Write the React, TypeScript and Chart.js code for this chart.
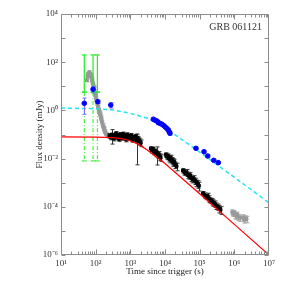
import { useEffect, useRef } from "react";
import { Chart, registerables } from "chart.js";
Chart.register(...registerables);

// ---------- data ----------
const xTickValues = [1e1, 1e2, 1e3, 1e4, 1e5, 1e6, 1e7];
const yTickValues = [1e-6, 1e-5, 1e-4, 1e-3, 1e-2, 1e-1, 1e0, 1e1, 1e2, 1e3, 1e4];
const superDigits: Record<string, string> = { "-": "⁻", "0": "⁰", "1": "¹", "2": "²", "3": "³", "4": "⁴", "5": "⁵", "6": "⁶", "7": "⁷", "8": "⁸", "9": "⁹" };

// model curves
const redT = [10, 100, 316, 562, 1000, 1778, 3162, 10000, 100000, 1000000, 10000000];
const redF = [0.0794, 0.0785, 0.0741, 0.0676, 0.055, 0.038, 0.0224, 0.0063, 0.000347, 0.0000186, 0.000001];

const cyanT = [10, 100, 316, 1000, 3160, 10000, 31600, 100000, 316000, 1000000, 3160000, 10000000];
const cyanF = [1.26, 1.17, 1.05, 0.76, 0.47, 0.19, 0.06, 0.0186, 0.0056, 0.00166, 0.0005, 0.000145];

// green upper limits
const limT = [47, 84, 112];
const limTop = [200, 200, 200];
const limMid = [5.7, 5.7, 5.7];
const limBottom = [0.008, 0.008, 0.008];

// blue points
const blueT = [47, 84, 115, 272, 4600, 5200, 5900, 6400, 7200, 8000, 9000, 10000, 11200, 12400, 13200, 13900, 78000, 133000, 170000, 254000, 344000];
const blueF = [1.97, 7.5, 2.3, 1.67, 0.43, 0.39, 0.36, 0.31, 0.29, 0.27, 0.24, 0.21, 0.18, 0.155, 0.13, 0.112, 0.0267, 0.0193, 0.0128, 0.0085, 0.0068];
const blueRel = [0.65, 0.3, 0.15, 0.25, 0.08, 0.06, 0.06, 0.06, 0.06, 0.06, 0.06, 0.07, 0.07, 0.08, 0.1, 0.15, 0.1, 0.1, 0.1, 0.1, 0.1];

// grey points
const greyT = [56, 58, 60, 63, 66, 69, 71, 73, 76, 78, 81, 84, 87, 89, 92, 95, 98, 102, 105, 109, 112, 116, 120, 125, 129, 133, 138, 142, 147, 152, 158, 163, 169, 174, 180, 186, 195, 205, 215,
  870000, 920000, 980000, 1050000, 1120000, 1200000, 1300000, 1450000, 1750000, 1900000, 2050000, 2250000];
const greyF = [18, 26, 32, 35, 39, 33, 27, 30, 22, 18, 15, 12.4, 10, 8.5, 6.5, 5.3, 4.2, 3.3, 2.6, 2.2, 1.8, 1.5, 1.2, 1.04, 0.85, 0.71, 0.58, 0.48, 0.4, 0.33, 0.26, 0.22, 0.19, 0.17, 0.14, 0.126, 0.11, 0.104, 0.095,
  0.00006, 0.000052, 0.000056, 0.000046, 0.000043, 0.000048, 0.000038, 0.000035, 0.000036, 0.00003, 0.000033, 0.000031];
const greyRel = [0.15, 0.12, 0.1, 0.1, 0.1, 0.1, 0.1, 0.1, 0.1, 0.1, 0.1, 0.1, 0.1, 0.1, 0.1, 0.1, 0.1, 0.1, 0.1, 0.1, 0.1, 0.1, 0.1, 0.1, 0.1, 0.1, 0.1, 0.1, 0.1, 0.1, 0.12, 0.12, 0.12, 0.12, 0.12, 0.12, 0.12, 0.12, 0.12,
  0.25, 0.25, 0.25, 0.3, 0.3, 0.25, 0.3, 0.3, 0.3, 0.3, 0.3, 0.3];

// black points
const blackT = [250, 270, 290, 310, 335, 360, 385, 410, 440, 470, 500, 540, 580, 620, 660, 710, 760, 810, 870, 930, 1000, 1070, 1150, 1230, 1320, 1420, 1520, 1630, 1750, 1880, 2000,
  3900, 4200, 4500, 4800, 5100, 5400, 5800, 6200, 6600, 7000, 7500,
  10500, 11200, 12000, 12800, 13600, 14500, 15500, 16500, 17500, 18700, 20000, 21500,
  33000, 36000, 39000, 42000, 45000, 49000, 53000, 57000, 62000, 67000, 73000, 80000, 88000, 95000,
  125000, 140000, 155000, 170000, 185000, 205000, 225000, 250000, 275000, 300000, 330000, 370000, 400000];
const blackF = [0.09, 0.075, 0.1, 0.082, 0.068, 0.095, 0.11, 0.078, 0.088, 0.065, 0.1, 0.085, 0.072, 0.105, 0.08, 0.09, 0.062, 0.098, 0.075, 0.085, 0.07, 0.092, 0.06, 0.078, 0.066, 0.085, 0.055, 0.07, 0.06, 0.05, 0.045,
  0.026, 0.022, 0.025, 0.019, 0.021, 0.017, 0.018, 0.014, 0.015, 0.012, 0.011,
  0.0145, 0.012, 0.013, 0.0105, 0.0095, 0.011, 0.0085, 0.0078, 0.0068, 0.0072, 0.0055, 0.0048,
  0.0032, 0.0028, 0.0025, 0.0027, 0.0021, 0.0019, 0.002, 0.0016, 0.0014, 0.0015, 0.0012, 0.00105, 0.0009, 0.00075,
  0.00036, 0.0003, 0.00026, 0.00028, 0.00022, 0.00019, 0.00017, 0.00015, 0.000135, 0.00011, 0.0001, 0.000085, 0.000075];
const blackRel = [0.2, 0.2, 0.6, 0.2, 0.2, 0.2, 0.2, 0.2, 0.2, 0.2, 0.2, 0.2, 0.2, 0.2, 0.2, 0.2, 0.2, 0.2, 0.2, 0.2, 0.2, 0.2, 0.2, 0.2, 0.2, 0.2, 0.9, 0.2, 0.2, 0.3, 0.3,
  0.2, 0.25, 0.2, 0.25, 0.2, 0.3, 0.7, 0.25, 0.3, 0.3, 0.3,
  0.2, 0.25, 0.2, 0.3, 0.3, 0.25, 0.3, 0.3, 0.3, 0.3, 0.3, 0.35,
  0.2, 0.25, 0.2, 0.3, 0.3, 0.25, 0.3, 0.3, 0.3, 0.3, 0.3, 0.35, 0.35, 0.4,
  0.2, 0.25, 0.2, 0.3, 0.3, 0.25, 0.3, 0.3, 0.3, 0.3, 0.3, 0.35, 0.35];

// ---------- styling ----------
const AXIS = "#8c8c8c";
const FONT = "'Liberation Serif', 'Times New Roman', serif";

function sup(n: number) {
  return "10" + String(n).split("").map((c) => superDigits[c] || c).join("");
}
function pts(t: number[], f: number[]) {
  return t.map((v, i) => ({ x: v, y: f[i] }));
}
function relLo(f: number[], r: number[]) {
  return f.map((v, i) => Math.max(v - v * r[i], v * 0.02));
}
function relHi(f: number[], r: number[]) {
  return f.map((v, i) => v + v * r[i]);
}

const errPlugin = {
  id: "errbars",
  beforeDatasetDraw(chart: any, args: any) {
    const ds = chart.data.datasets[args.index];
    if (!ds.errLo) return;
    const { ctx } = chart;
    const xs = chart.scales.x;
    const ys = chart.scales.y;
    ctx.save();
    ctx.strokeStyle = ds.errColor;
    ctx.lineWidth = 1;
    ds.data.forEach((p: any, i: number) => {
      const px = Math.round(xs.getPixelForValue(p.x)) + 0.5;
      const y1 = ys.getPixelForValue(ds.errLo[i]);
      const y2 = ys.getPixelForValue(ds.errHi[i]);
      ctx.beginPath();
      ctx.moveTo(px, y1);
      ctx.lineTo(px, y2);
      ctx.moveTo(px - 2, y1);
      ctx.lineTo(px + 2, y1);
      ctx.moveTo(px - 2, y2);
      ctx.lineTo(px + 2, y2);
      ctx.stroke();
    });
    ctx.restore();
  },
};

const framePlugin = {
  id: "frame",
  afterDraw(chart: any) {
    const { ctx, chartArea } = chart;
    const { left, right, top, bottom } = chartArea;
    const xs = chart.scales.x;
    const ys = chart.scales.y;
    ctx.save();
    ctx.strokeStyle = AXIS;
    ctx.lineWidth = 1;
    const L = Math.round(left) + 0.5, R = Math.round(right) - 0.5, T = Math.round(top) + 0.5, B = Math.round(bottom) - 0.5;
    ctx.beginPath();
    ctx.rect(L, T, R - L, B - T);
    ctx.stroke();
    ctx.beginPath();
    for (let e = 1; e < 7; e++) {
      for (let m = 1; m < 10; m++) {
        const v = m * Math.pow(10, e);
        const px = Math.round(xs.getPixelForValue(v)) + 0.5;
        const len = m === 1 ? 5 : 3;
        ctx.moveTo(px, B);
        ctx.lineTo(px, B - len);
        ctx.moveTo(px, T);
        ctx.lineTo(px, T + len);
      }
    }
    yTickValues.forEach((v) => {
      const py = Math.round(ys.getPixelForValue(v)) + 0.5;
      ctx.moveTo(L, py);
      ctx.lineTo(L + 4, py);
      ctx.moveTo(R, py);
      ctx.lineTo(R - 4, py);
    });
    ctx.stroke();
    ctx.fillStyle = "#333";
    ctx.font = `10px ${FONT}`;
    ctx.textAlign = "right";
    ctx.textBaseline = "middle";
    ctx.fillText("GRB 061121", right - 7, top + 13);
    ctx.restore();
  },
};

export default function App() {
  const ref = useRef<HTMLCanvasElement>(null);
  useEffect(() => {
    document.body.style.margin = "0";
    const limSolid: any[] = [];
    const limDash: any[] = [];
    limT.forEach((t, i) => {
      limSolid.push({ x: t, y: limTop[i] }, { x: t, y: limMid[i] }, { x: t, y: null });
      limDash.push({ x: t, y: limMid[i] }, { x: t, y: limBottom[i] }, { x: t, y: null });
    });
    const chart = new Chart(ref.current!, {
      type: "scatter",
      data: {
        datasets: [
          {
            data: pts(redT, redF) as any,
            showLine: true,
            borderColor: "#ff0000",
            borderWidth: 1.2,
            pointRadius: 0,
          },
          {
            data: pts(blueT, blueF) as any,
            backgroundColor: "#0000ff",
            borderColor: "#0000ff",
            pointRadius: 2.3,
            errLo: relLo(blueF, blueRel),
            errHi: relHi(blueF, blueRel),
            errColor: "#6f6fff",
          } as any,
          {
            data: pts(cyanT, cyanF) as any,
            showLine: true,
            borderColor: "#22e6ee",
            borderWidth: 1.5,
            borderDash: [4, 3],
            pointRadius: 0,
          },
          {
            data: limSolid,
            showLine: true,
            spanGaps: false,
            borderColor: "#22ee22",
            borderWidth: 1.2,
            pointStyle: "line",
            pointRadius: 2.5,
            borderCapStyle: "butt",
          } as any,
          {
            data: limDash,
            showLine: true,
            spanGaps: false,
            borderColor: "#22ee22",
            borderWidth: 1,
            borderDash: [4, 2, 1, 2],
            pointStyle: "line",
            pointRadius: 2.5,
          },
          {
            data: pts(blackT, blackF) as any,
            backgroundColor: "#000000",
            borderColor: "#000000",
            pointStyle: "rect",
            pointRadius: 2,
            errLo: relLo(blackF, blackRel),
            errHi: relHi(blackF, blackRel),
            errColor: "#333333",
          } as any,
          {
            data: pts(greyT, greyF) as any,
            backgroundColor: "#999999",
            borderColor: "#999999",
            pointStyle: "rect",
            pointRadius: 2,
            errLo: relLo(greyF, greyRel),
            errHi: relHi(greyF, greyRel),
            errColor: "#aaaaaa",
          } as any,
        ],
      },
      options: {
        animation: false,
        responsive: false,
        layout: { padding: { left: 0, right: 13, top: 14, bottom: 0 } },
        plugins: { legend: { display: false }, tooltip: { enabled: false } },
        scales: {
          x: {
            type: "logarithmic",
            min: 10,
            max: 1e7,
            grid: { display: false, drawTicks: false },
            border: { display: false },
            afterBuildTicks: (s: any) => {
              s.ticks = xTickValues.map((v) => ({ value: v, major: true }));
            },
            afterFit: (s: any) => {
              s.height = 27;
            },
            ticks: {
              autoSkip: false,
              maxRotation: 0,
              padding: 3,
              color: "#333",
              font: { family: FONT, size: 9 },
              callback: (v: any) => sup(Math.round(Math.log10(v))),
            },
            title: {
              display: true,
              text: "Time since trigger (s)",
              color: "#222",
              font: { family: FONT, size: 9 },
              padding: { top: 0, bottom: 5 },
            },
          },
          y: {
            type: "logarithmic",
            min: 1e-6,
            max: 1e4,
            grid: { display: false, drawTicks: false },
            border: { display: false },
            afterBuildTicks: (s: any) => {
              s.ticks = yTickValues.map((v) => ({ value: v, major: true }));
            },
            afterFit: (s: any) => {
              s.width = 61;
            },
            ticks: {
              autoSkip: false,
              padding: 3,
              color: "#333",
              font: { family: FONT, size: 9 },
              callback: (v: any) => {
                const e = Math.round(Math.log10(v));
                return e % 2 === 0 ? sup(e) : "";
              },
            },
            title: {
              display: true,
              text: "Flux density (mJy)",
              color: "#222",
              font: { family: FONT, size: 9 },
              padding: { top: 34, bottom: 0 },
            },
          },
        },
      },
      plugins: [errPlugin, framePlugin],
    });
    return () => chart.destroy();
  }, []);
  return (
    <div style={{ position: "absolute", left: 0, top: 0, width: 282, height: 282 }}>
      <canvas ref={ref} width={282} height={282} style={{ width: 282, height: 282 }} />
    </div>
  );
}
